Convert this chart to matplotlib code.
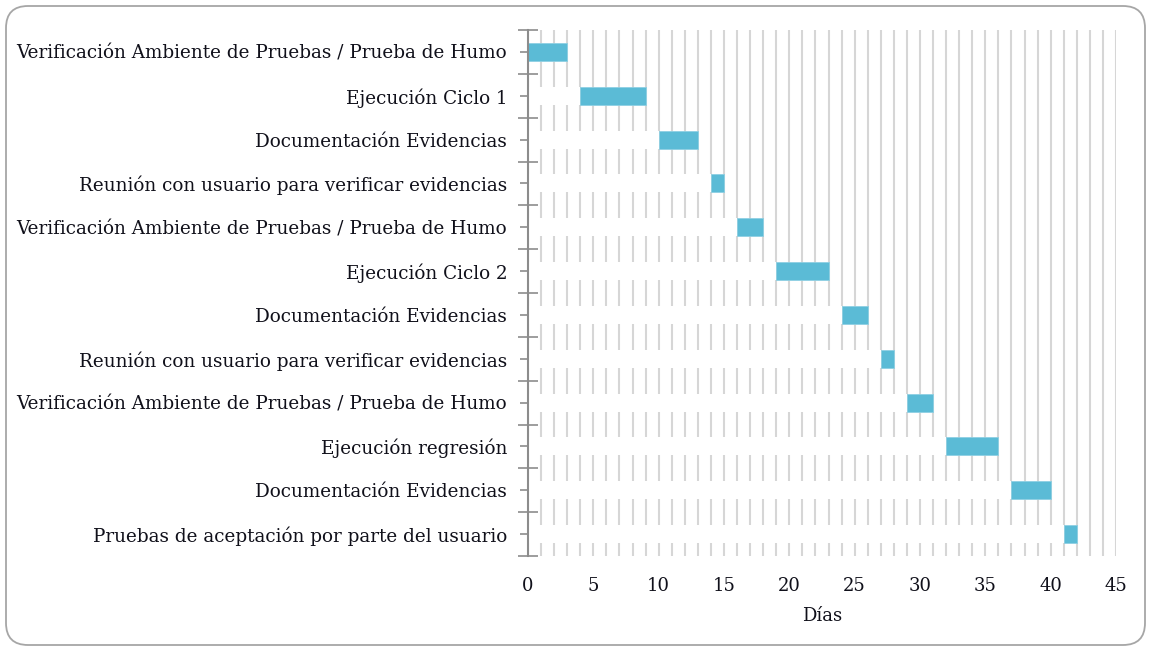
import matplotlib
matplotlib.use("Agg")
import matplotlib.pyplot as plt
from matplotlib.patches import FancyBboxPatch
from matplotlib.ticker import MultipleLocator, FixedLocator

tasks = [
    "Verificación Ambiente de Pruebas / Prueba de Humo",
    "Ejecución Ciclo 1",
    "Documentación Evidencias",
    "Reunión con usuario para verificar evidencias",
    "Verificación Ambiente de Pruebas / Prueba de Humo",
    "Ejecución Ciclo 2",
    "Documentación Evidencias",
    "Reunión con usuario para verificar evidencias",
    "Verificación Ambiente de Pruebas / Prueba de Humo",
    "Ejecución regresión",
    "Documentación Evidencias",
    "Pruebas de aceptación por parte del usuario",
]
start = [0, 4, 10, 14, 16, 19, 24, 27, 29, 32, 37, 41]
duration = [3, 5, 3, 1, 2, 4, 2, 1, 2, 4, 3, 1]
x_ticks = [0, 5, 10, 15, 20, 25, 30, 35, 40, 45]
x_label = "Días"

W, H = 1151, 651
fig = plt.figure(figsize=(W / 100, H / 100), dpi=100)
fig.patch.set_facecolor("white")

border = FancyBboxPatch((6 / W, 6 / H), (W - 12) / W, (H - 12) / H,
                        boxstyle="round,pad=0,rounding_size=%f" % (22 / W),
                        mutation_aspect=W / H,
                        transform=fig.transFigure, facecolor="none",
                        edgecolor="#a6a6a6", linewidth=1.3, zorder=10)
fig.patches.append(border)

ax = fig.add_axes([528 / W, 95 / H, (1116 - 528) / W, (621 - 95) / H])
ax.set_facecolor("none")

serif = "DejaVu Serif"
txt = "#10101a"

y = list(range(len(tasks)))
ax.barh(y, start, height=0.41, color="white", edgecolor="none", zorder=2)
ax.barh(y, duration, left=start, height=0.41, color="#5BBBD6",
        edgecolor="#8fd0e3", linewidth=0.6, zorder=3)

ax.set_xlim(0, 45)
ax.set_ylim(len(tasks) - 0.5, -0.5)

ax.xaxis.set_major_locator(FixedLocator(x_ticks))
ax.xaxis.set_minor_locator(MultipleLocator(1))
ax.grid(which="both", axis="x", color="#d6d6d6", linewidth=1.5, zorder=1)
ax.set_axisbelow(True)
ax.tick_params(axis="x", which="both", length=0, pad=15, labelsize=13,
               labelcolor=txt)
for lab in ax.get_xticklabels():
    lab.set_fontfamily(serif)

ax.set_yticks(y)
ax.set_yticklabels(tasks, fontfamily=serif, fontsize=13.2, color=txt)
ax.yaxis.set_minor_locator(FixedLocator([i - 0.5 for i in range(len(tasks) + 1)]))
ax.tick_params(axis="y", which="major", direction="inout", length=11,
               width=1.2, color="#8c8c8c", pad=9.5)
ax.tick_params(axis="y", which="minor", direction="inout", length=15,
               width=1.2, color="#8c8c8c")

for s in ["top", "right", "bottom"]:
    ax.spines[s].set_visible(False)
ax.spines["left"].set_color("#8c8c8c")
ax.spines["left"].set_linewidth(1.5)
ax.spines["left"].set_zorder(4)

ax.set_xlabel(x_label, fontfamily=serif, fontsize=13, color=txt, labelpad=9)

fig.savefig("out.png", dpi=100, facecolor="white")
